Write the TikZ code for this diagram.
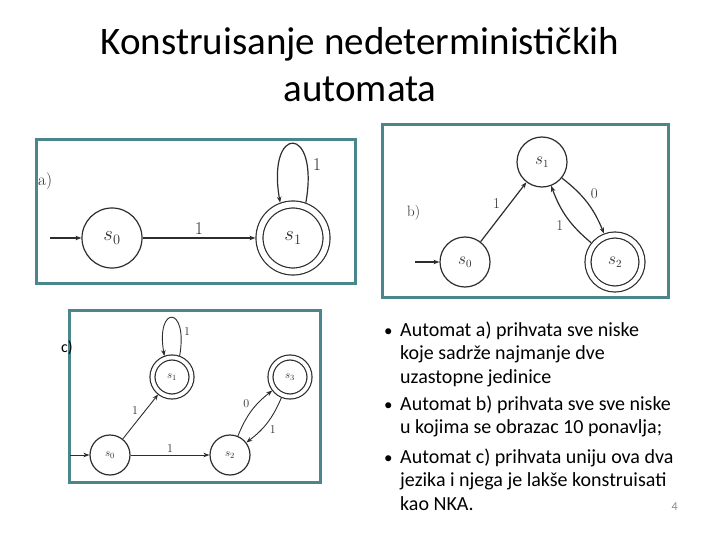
\documentclass[tikz,border=0pt]{standalone}
\usepackage[no-math]{fontspec}
\setmainfont{Carlito}
\newfontfamily\lmfont{Latin Modern Roman}
\usetikzlibrary{arrows.meta, positioning}
\definecolor{frameteal}{RGB}{74,134,140}
\definecolor{inkgray}{RGB}{45,45,45}
\definecolor{pagegray}{RGB}{137,137,137}
\tikzset{
  title/.style={anchor=base, inner sep=0pt, font=\fontsize{39}{47}\selectfont},
  frame/.style={draw=frameteal, line width=3pt},
  st/.style={circle, draw=inkgray, line width=1.2pt, inner sep=0pt, text=inkgray},
  acc/.style 2 args={st, double, double distance=#1, outer sep=#2},
  arr/.style={-{Stealth[length=6pt, width=4.5pt]}, draw=inkgray, line width=1.2pt},
  tag/.style={anchor=base west, inner sep=0pt, text=inkgray},
  lbla/.style={font=\lmfont\fontsize{18}{20}\selectfont, text=inkgray, inner sep=3pt},
  lblb/.style={font=\lmfont\fontsize{15}{17}\selectfont, text=inkgray, inner sep=3pt},
  lblc/.style={font=\lmfont\fontsize{12}{14}\selectfont, text=inkgray, inner sep=2pt},
  bul/.style={anchor=base west, align=left, inner sep=0pt, font=\fontsize{20}{23.5}\selectfont},
  dot/.style={anchor=base west, inner sep=0pt, font=\fontsize{17}{20}\selectfont}
}
\begin{document}
\begin{tikzpicture}[x=1pt, y=1pt, on grid]
  \useasboundingbox (0,0) rectangle (720,-540);
  \node[title] (t1) at (360,-55) {Konstruisanje nedeterminističkih};
  \node[title] (t2) at (360,-102) {automata};

  \draw[frame] (36,-140) rectangle (355,-283);
  \node[tag, font=\lmfont\fontsize{17}{20}\selectfont] (ta) at (38,-186) {a)};
  \node[st, minimum size=60pt, font=\fontsize{20}{24}\selectfont] (a0) at (112,-238) {$s_0$};
  \node[acc={5.8pt}{4.1pt}, minimum size=67pt, font=\fontsize{20}{24}\selectfont,
    right=181pt of a0] (a1) {$s_1$};
  \coordinate (ina) at (50,-238);
  \draw[arr] (ina) -- (a0);
  \draw[arr] (a0) -- node[lbla, auto] {1} (a1);
  \draw[arr] (a1.70) .. controls +(80:80) and +(100:80) .. (a1.110)
    node[lbla, pos=0.2, right=2pt] {1};

  \draw[frame] (382,-125) rectangle (668,-297);
  \node[tag, font=\lmfont\fontsize{15}{18}\selectfont] (tb) at (407,-216) {b)};
  \node[st, minimum size=50pt, font=\fontsize{16}{19}\selectfont] (b0) at (465,-262) {$s_0$};
  \node[st, minimum size=50pt, font=\fontsize{16}{19}\selectfont,
    above right=100pt and 77pt of b0] (b1) {$s_1$};
  \node[acc={4.8pt}{3.6pt}, minimum size=54pt, font=\fontsize{16}{19}\selectfont,
    right=150pt of b0] (b2) {$s_2$};
  \coordinate (inb) at (415,-262);
  \draw[arr] (inb) -- (b0);
  \draw[arr] (b0) -- node[lblb, auto] {1} (b1);
  \draw[arr] (b1) to[bend left=15] node[lblb, auto] {0} (b2);
  \draw[arr] (b2) to[bend left=15] node[lblb, auto] {1} (b1);

  \draw[frame] (69,-310) rectangle (320,-482);
  \node[tag, text=black, font=\fontsize{16}{19}\selectfont] (tc) at (61,-352) {c)};
  \begin{scope}[every node/.append style={line width=0.9pt}, arr/.append style={line width=0.9pt}]
    \node[st, minimum size=40pt, font=\fontsize{11}{13}\selectfont] (c0) at (110,-455) {$s_0$};
    \node[acc={3.8pt}{2.8pt}, minimum size=39pt, font=\fontsize{11}{13}\selectfont,
      above right=78pt and 62pt of c0] (c1) {$s_1$};
    \node[st, minimum size=40pt, font=\fontsize{11}{13}\selectfont,
      right=120pt of c0] (c2) {$s_2$};
    \node[acc={3.8pt}{2.8pt}, minimum size=39pt, font=\fontsize{11}{13}\selectfont,
      right=118pt of c1] (c3) {$s_3$};
    \coordinate (inc) at (70,-455);
    \draw[arr] (inc) -- (c0);
    \draw[arr] (c0) -- node[lblc, auto] {1} (c1);
    \draw[arr] (c0) -- node[lblc, auto] {1} (c2);
    \draw[arr] (c1.70) .. controls +(80:52) and +(100:52) .. (c1.110)
      node[lblc, pos=0.2, right=1pt] {1};
    \draw[arr] (c2) to[bend left=15] node[lblc, auto] {0} (c3);
    \draw[arr] (c3) to[bend left=15] node[lblc, auto] {1} (c2);
  \end{scope}

  \node[dot] (d1) at (384,-336) {•};
  \node[bul] (p1) at (400,-383) {Automat a) prihvata sve niske\\koje sadrže najmanje dve\\uzastopne jedinice};
  \node[dot] (d2) at (384,-410) {•};
  \node[bul] (p2) at (400,-433.5) {Automat b) prihvata sve sve niske\\u kojima se obrazac 10 ponavlja;};
  \node[dot] (d3) at (384,-463) {•};
  \node[bul] (p3) at (400,-510) {Automat c) prihvata uniju ova dva\\jezika i njega je lakše konstruisati\\kao NKA.};
  \node[anchor=base east, inner sep=0pt, text=pagegray, font=\fontsize{12}{14}\selectfont] (pg) at (678,-510) {4};
\end{tikzpicture}
\end{document}
